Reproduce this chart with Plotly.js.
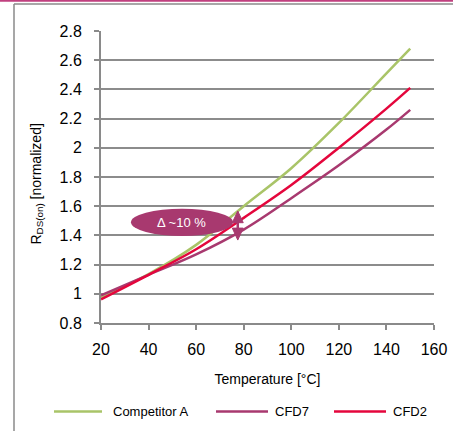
<!DOCTYPE html>
<html>
<head>
<meta charset="utf-8">
<script src="https://cdn.plot.ly/plotly-3.0.1.min.js"></script>
<style>
  html, body { margin: 0; padding: 0; background: #fff; }
  #chart { width: 453px; height: 431px; }
</style>
</head>
<body>
<div id="chart"></div>
<script>
// ---- data ----
const temperatures = [20, 40, 60, 80, 100, 120, 140, 150];
const competitorA = [0.975, 1.135, 1.335, 1.60, 1.86, 2.17, 2.51, 2.68];
const cfd7 = [0.99, 1.13, 1.27, 1.44, 1.655, 1.88, 2.125, 2.26];
const cfd2 = [0.962, 1.13, 1.305, 1.52, 1.745, 2.0, 2.268, 2.41];
const seriesNames = ['Competitor A', 'CFD7', 'CFD2'];
const xTickVals = [20, 40, 60, 80, 100, 120, 140, 160];
const yTickVals = [0.8, 1, 1.2, 1.4, 1.6, 1.8, 2, 2.2, 2.4, 2.6, 2.8];
const yTickText = ['0.8', '1', '1.2', '1.4', '1.6', '1.8', '2', '2.2', '2.4', '2.6', '2.8'];
const xTitle = 'Temperature [°C]';
const yTitle = 'R<sub>DS(on)</sub> [normalized]';
const deltaLabel = 'Δ ~10 %';

const colors = ['#A9C468', '#A8396F', '#E4063C'];
const FONT = 'Liberation Sans, Arial, sans-serif';

const traces = [competitorA, cfd7, cfd2].map((ys, i) => ({
  type: 'scatter', mode: 'lines', x: temperatures, y: ys, name: seriesNames[i],
  line: { color: colors[i], width: 2.5, shape: 'spline', smoothing: 1 },
  hoverinfo: 'skip', showlegend: false
}));

const L = 101, R = 19, T = 31, B = 108, W = 453, H = 431;
const pw = W - L - R, ph = H - T - B;
const px = (p) => (p - L) / pw;          // pixel -> paper x
const py = (p) => (H - B - p) / ph;       // pixel -> paper y

// legend (drawn as shapes + text, laid out like the original)
const legendY = 411.5;
const legendItems = [
  { x0: 54, x1: 102, tx: 111 },
  { x0: 216, x1: 268, tx: 273 },
  { x0: 334, x1: 386, tx: 391 }
];
const legendShapes = legendItems.map((it, i) => ({
  type: 'line', xref: 'paper', yref: 'paper',
  x0: px(it.x0), x1: px(it.x1), y0: py(legendY), y1: py(legendY),
  line: { color: colors[i], width: 2.5 }
}));
const legendTexts = legendItems.map((it, i) => ({
  xref: 'paper', yref: 'paper', x: px(it.tx), y: py(legendY), xanchor: 'left', yanchor: 'middle',
  text: seriesNames[i], showarrow: false,
  font: { family: FONT, size: 13, color: '#000' }
}));

// double-headed arrow built from data-space paths
const ax = 77.5, hw = 2.3;
const tipTop = 1.567, baseTop = 1.487, tipBot = 1.368, baseBot = 1.450;

const layout = {
  width: W, height: H,
  margin: { l: L, r: R, t: T, b: B, pad: 0 },
  paper_bgcolor: '#ffffff', plot_bgcolor: '#ffffff',
  font: { family: FONT, color: '#000' },
  showlegend: false,
  xaxis: {
    range: [20, 160], tickvals: xTickVals, showgrid: false, zeroline: false,
    showline: true, linecolor: '#8a8a8a', linewidth: 2,
    ticks: 'outside', ticklen: 5, tickwidth: 2, tickcolor: '#8a8a8a',
    tickfont: { family: FONT, size: 16, color: '#000' },
    ticklabelstandoff: 6,
    title: { text: xTitle, font: { family: FONT, size: 14, color: '#000' }, standoff: 17 },
    fixedrange: true
  },
  yaxis: {
    range: [0.8, 2.8], tickvals: yTickVals, ticktext: yTickText,
    showgrid: true, gridcolor: '#8c8c8c', gridwidth: 2, zeroline: false,
    showline: true, linecolor: '#8a8a8a', linewidth: 2,
    ticks: 'outside', ticklen: 5, tickwidth: 2, tickcolor: '#8a8a8a',
    tickfont: { family: FONT, size: 16, color: '#000' },
    ticklabelstandoff: 9,
    fixedrange: true
  },
  shapes: [
    // outer frame (left and top edges)
    { type: 'line', xref: 'paper', yref: 'paper', x0: px(14), x1: px(14), y0: py(4), y1: py(440), line: { color: '#8a8a8a', width: 1.5 } },
    { type: 'line', xref: 'paper', yref: 'paper', x0: px(14), x1: px(460), y0: py(4), y1: py(4), line: { color: '#8a8a8a', width: 1.5 } },
    // pink top rule
    { type: 'line', xref: 'paper', yref: 'paper', x0: px(-5), x1: px(460), y0: py(0.8), y1: py(0.8), line: { color: '#C0407F', width: 2 } },
    // ellipse callout
    { type: 'circle', xref: 'x', yref: 'y', x0: 32.6, x1: 75.5, y0: 1.396, y1: 1.583,
      fillcolor: '#A8396F', line: { width: 0 }, layer: 'above' },
    // arrow shaft + heads
    { type: 'line', xref: 'x', yref: 'y', x0: ax, x1: ax, y0: baseBot, y1: baseTop,
      line: { color: '#A8396F', width: 2.5 }, layer: 'above' },
    { type: 'path', xref: 'x', yref: 'y', layer: 'above',
      path: `M ${ax} ${tipTop} L ${ax - hw} ${baseTop} L ${ax + hw} ${baseTop} Z`,
      fillcolor: '#A8396F', line: { color: '#A8396F', width: 1 } },
    { type: 'path', xref: 'x', yref: 'y', layer: 'above',
      path: `M ${ax} ${tipBot} L ${ax - hw} ${baseBot} L ${ax + hw} ${baseBot} Z`,
      fillcolor: '#A8396F', line: { color: '#A8396F', width: 1 } }
  ].concat(legendShapes),
  annotations: [
    { xref: 'x', yref: 'y', x: 54, y: 1.49, text: deltaLabel, showarrow: false,
      font: { family: FONT, size: 13, color: '#ffffff' } },
    { xref: 'paper', yref: 'paper', x: px(37), y: py(184.5), xanchor: 'center', yanchor: 'middle',
      textangle: -90, text: yTitle, showarrow: false,
      font: { family: FONT, size: 14, color: '#000' } }
  ].concat(legendTexts)
};

Plotly.newPlot('chart', traces, layout, { displayModeBar: false, staticPlot: true });
</script>
</body>
</html>
